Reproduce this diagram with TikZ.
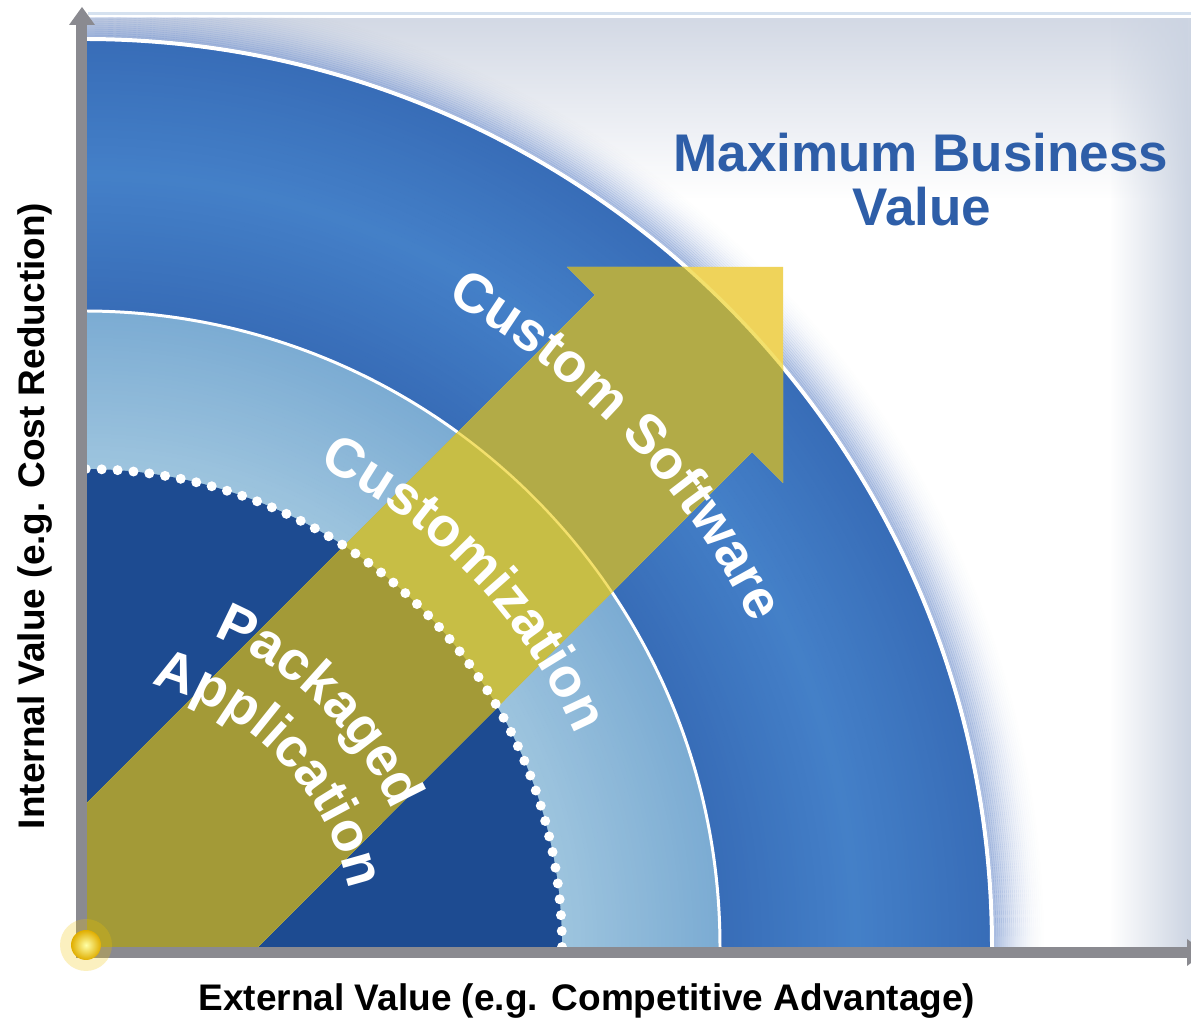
\documentclass[tikz,border=0pt]{standalone}
\usepackage{fontspec}
\setmainfont{Liberation Sans}
\usetikzlibrary{decorations.text,fadings}
\definecolor{bgtop}{HTML}{D3D9E5}
\definecolor{bgright}{HTML}{CCD4E2}
\definecolor{glowc}{HTML}{7D9AD2}
\definecolor{outerMid}{HTML}{4480C8}
\definecolor{outerEdge}{HTML}{386DB8}
\definecolor{lightIn}{HTML}{9DC4DE}
\definecolor{lightOut}{HTML}{7CACD3}
\definecolor{innerBlue}{HTML}{1D4B91}
\definecolor{arrYellow}{HTML}{EFD35A}
\definecolor{arrOuter}{HTML}{B2AB47}
\definecolor{arrLight}{HTML}{C7BE45}
\definecolor{arrInner}{HTML}{A39A37}
\definecolor{arcOnArrow}{HTML}{F3E06C}
\definecolor{axisgray}{HTML}{8A8A90}
\definecolor{titleblue}{HTML}{2E5EA8}
\definecolor{topline}{HTML}{D5E1EF}
\definecolor{ballY}{HTML}{F2C400}
\definecolor{ballEdge}{HTML}{E0AE00}
\newcommand\arcfont{\fontsize{55bp}{60bp}\selectfont\bfseries\color{white}}
\begin{document}
\begin{tikzpicture}[x=1bp,y=1bp,
  lbl/.style={font=\fontsize{37bp}{40bp}\selectfont\bfseries, text=black, inner sep=0pt},
  ttl/.style={font=\fontsize{53bp}{58bp}\selectfont\bfseries, text=titleblue, inner sep=0pt, anchor=base},
  arctext/.style={decorate, decoration={text along path, text align=center, text={|\arcfont|#1}}},
  axisline/.style={axisgray, line width=10.5}
]
\useasboundingbox (0,0) rectangle (1191,1018);
\coordinate (O) at (84,71);
\def\arrowpath{(86,214) -- (595,723) -- (567,751) -- (783,751) -- (783,535) -- (752,566) -- (258,71) -- (86,71) -- cycle}
\fill[white] (0,0) rectangle (1191,1018);
\draw[topline, line width=3] (88,1004) -- (1191,1004);
\begin{scope}
  \clip (86,71) rectangle (1191,1000);
  \fill[bgtop, path fading=south] (86,820) rectangle (1191,1000);
  \fill[bgright, path fading=west] (1110,71) rectangle (1191,1000);
  \foreach \i in {0,...,27} {
    \pgfmathsetmacro\op{0.7*(1-\i/28)*(1-\i/28)}
    \draw[glowc, line width=2.4, opacity=\op] (O) circle[radius=907+2*\i];
  }
  % outer band
  \fill[outerEdge] (O) circle[radius=906];
  \foreach \r in {640,644,...,904} {
    \pgfmathsetmacro\p{100*(1-abs(\r-772)/132)}
    \draw[outerMid!\p!outerEdge, line width=4.6] (O) circle[radius=\r];
  }
  \draw[white, line width=4] (O) circle[radius=908];
  % light band
  \fill[lightOut] (O) circle[radius=636];
  \foreach \r in {480,484,...,632} {
    \pgfmathsetmacro\p{100*(\r-480)/152}
    \draw[lightOut!\p!lightIn, line width=4.6] (O) circle[radius=\r];
  }
  \draw[white, line width=3] (O) circle[radius=636];
  % inner
  \fill[innerBlue] (O) circle[radius=478];
  % arrow
  \fill[arrYellow] \arrowpath;
  \begin{scope}
    \clip (O) circle[radius=907];
    \fill[arrOuter] \arrowpath;
  \end{scope}
  \begin{scope}
    \clip (O) circle[radius=636];
    \fill[arrLight] \arrowpath;
  \end{scope}
  \begin{scope}
    \clip (O) circle[radius=478];
    \fill[arrInner] \arrowpath;
  \end{scope}
  \begin{scope}
    \clip \arrowpath;
    \draw[arcOnArrow, line width=3.5] (O) circle[radius=908];
    \draw[arcOnArrow, line width=2.5] (O) circle[radius=636];
  \end{scope}
  % dotted arc
  \draw[white, line width=10, dash pattern=on 0pt off 16pt, line cap=round]
    (O) ++(0:478) arc[start angle=0, end angle=90, radius=478];
  % arc texts
  \path[arctext=Custom Software] (O) ++(86.6:742) arc[start angle=86.6, end angle=0, radius=742];
  \path[arctext=Customization] (O) ++(87.4:535) arc[start angle=87.4, end angle=0, radius=535];
  \path[arctext=Packaged] (O) ++(91.2:337) arc[start angle=91.2, end angle=0, radius=337];
  \path[arctext=Application] (O) ++(87.8:271) arc[start angle=87.8, end angle=0, radius=271];
\end{scope}
% axes
\coordinate (yB) at (81.5,60);
\coordinate (yT) at (81.5,993);
\coordinate (xL) at (76,65.5);
\coordinate (xR) at (1188,65.5);
\draw[axisline] (yB) -- (yT);
\fill[axisgray] (69,993) -- (95,993) -- (82,1011) -- cycle;
\draw[axisline] (xL) -- (xR);
\fill[axisgray] (1187,52) -- (1187,79) -- (1205,65.5) -- cycle;
% origin ball
\fill[ballY, opacity=0.25] (86,73) circle[radius=26];
\shade[inner color=yellow!35!white, outer color=ballEdge] (86,73) circle[radius=15];
% labels
\node[lbl, anchor=base] (xl) at (587,7) {External Value (e.g. Competitive Advantage)};
\node[lbl, anchor=base, rotate=90] (yl) at (44,502) {Internal Value (e.g. Cost Reduction)};
\node[ttl] (t1) at (921,846) {Maximum Business};
\node[ttl] (t2) at (922,792) {Value};
\end{tikzpicture}
\end{document}
